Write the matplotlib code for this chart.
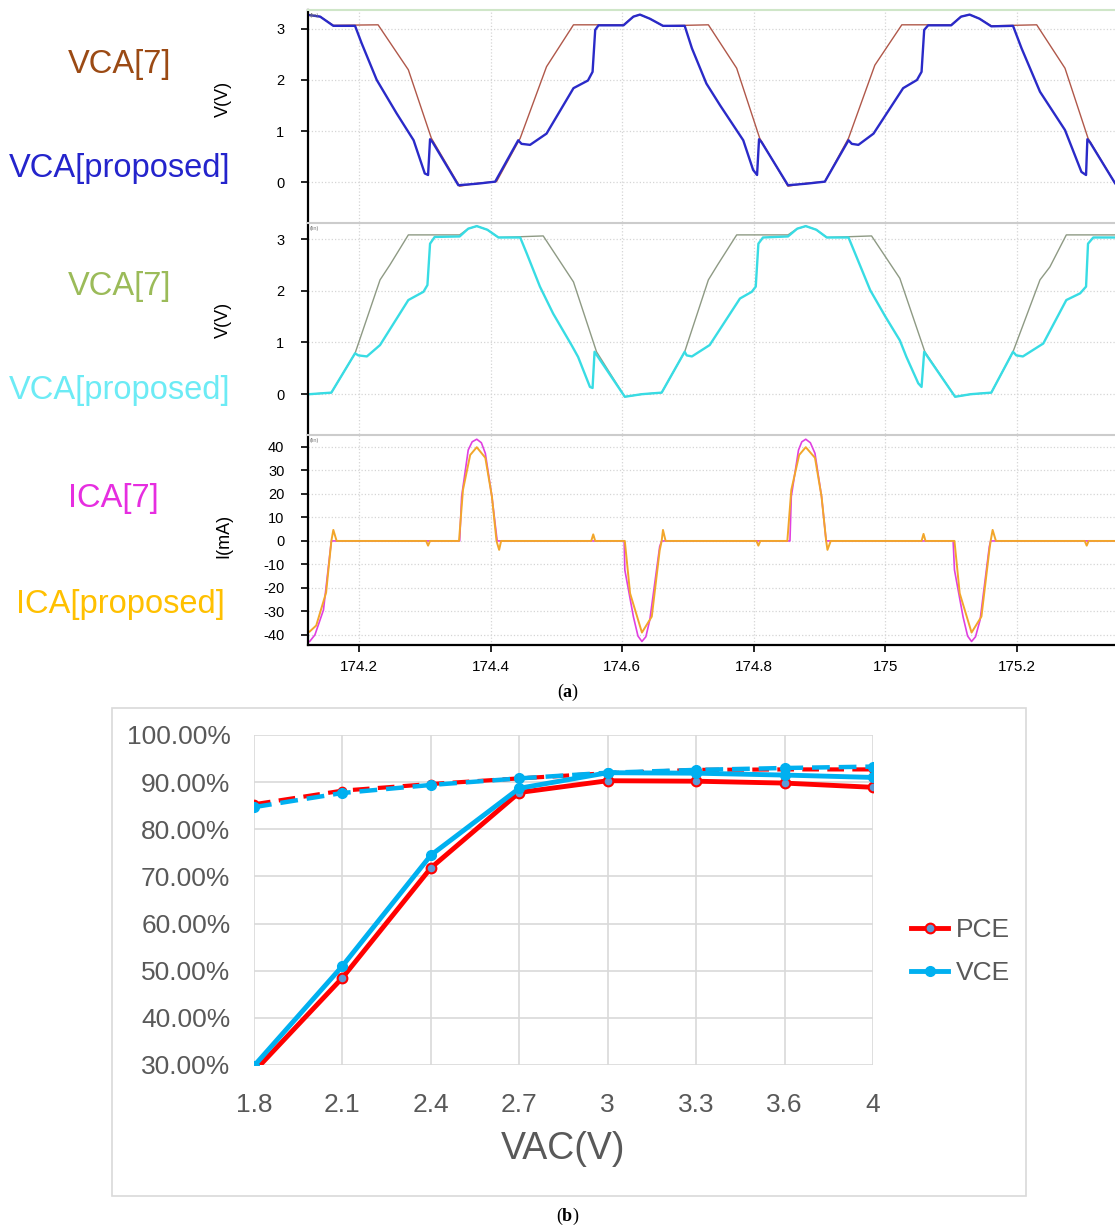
import numpy as np
import matplotlib
matplotlib.use("Agg")
import matplotlib.pyplot as plt
from matplotlib.lines import Line2D
from matplotlib.patches import Rectangle
from matplotlib.ticker import PercentFormatter, FuncFormatter

plt.rcParams['font.family'] = ['Liberation Sans', 'DejaVu Sans']
plt.rcParams['axes.unicode_minus'] = False
plt.rcParams['mathtext.fontset'] = 'custom'
plt.rcParams['mathtext.rm'] = 'Liberation Serif'
plt.rcParams['mathtext.bf'] = 'Liberation Serif:bold'

# ---- (a) waveform vertices: (time, value) ----
vca7_top = [(174.125, 3.27), (174.141, 3.24), (174.161, 3.07), (174.229, 3.08), (174.275, 2.20),
            (174.310, 0.86), (174.353, -0.08), (174.380, -0.02), (174.409, 0.01), (174.445, 0.86),
            (174.485, 2.26), (174.526, 3.08), (174.602, 3.08), (174.617, 3.24), (174.627, 3.28),
            (174.642, 3.20), (174.662, 3.06), (174.731, 3.08), (174.774, 2.23), (174.809, 0.86),
            (174.852, -0.08), (174.880, -0.02), (174.908, 0.01), (174.944, 0.86), (174.984, 2.29),
            (175.025, 3.08), (175.100, 3.08), (175.115, 3.24), (175.128, 3.28), (175.143, 3.20),
            (175.161, 3.06), (175.230, 3.08), (175.273, 2.23), (175.308, 0.86), (175.349, -0.02)]
vcap_top = [(174.125, 3.27), (174.141, 3.24), (174.161, 3.06), (174.194, 3.06), (174.204, 2.72),
            (174.227, 2.00), (174.257, 1.35), (174.283, 0.82), (174.300, 0.17), (174.305, 0.14),
            (174.308, 0.84), (174.312, 0.78), (174.351, -0.06), (174.380, -0.03), (174.407, 0.01),
            (174.442, 0.82), (174.447, 0.75), (174.460, 0.73), (174.485, 0.95), (174.526, 1.84),
            (174.548, 1.99), (174.555, 2.16), (174.559, 2.98), (174.564, 3.07), (174.602, 3.07),
            (174.617, 3.24), (174.627, 3.28), (174.642, 3.20), (174.662, 3.06), (174.695, 3.06),
            (174.706, 2.62), (174.728, 1.93), (174.749, 1.50), (174.784, 0.82), (174.799, 0.24),
            (174.805, 0.14), (174.808, 0.84), (174.812, 0.78), (174.852, -0.06), (174.880, -0.03),
            (174.908, 0.01), (174.944, 0.82), (174.949, 0.75), (174.959, 0.73), (174.982, 0.95),
            (175.027, 1.84), (175.048, 2.00), (175.055, 2.16), (175.059, 2.98), (175.065, 3.07),
            (175.100, 3.07), (175.115, 3.24), (175.128, 3.28), (175.143, 3.20), (175.161, 3.05),
            (175.194, 3.06), (175.207, 2.62), (175.235, 1.77), (175.273, 1.02), (175.298, 0.20),
            (175.305, 0.14), (175.307, 0.84), (175.311, 0.78), (175.349, -0.02)]
vca7_mid = [(174.125, 0.0), (174.158, 0.03), (174.194, 0.79), (174.232, 2.21), (174.247, 2.50),
            (174.275, 3.08), (174.353, 3.08), (174.366, 3.20), (174.379, 3.25), (174.395, 3.18),
            (174.412, 3.03), (174.480, 3.06), (174.526, 2.17), (174.561, 0.82), (174.604, -0.05),
            (174.630, 0.0), (174.660, 0.03), (174.695, 0.82), (174.731, 2.21), (174.745, 2.50),
            (174.774, 3.08), (174.852, 3.08), (174.866, 3.20), (174.879, 3.25), (174.895, 3.18),
            (174.911, 3.03), (174.979, 3.06), (175.022, 2.24), (175.060, 0.82), (175.106, -0.05),
            (175.130, 0.0), (175.161, 0.03), (175.194, 0.82), (175.235, 2.21), (175.250, 2.46),
            (175.275, 3.08), (175.349, 3.08)]
vcap_mid = [(174.125, 0.0), (174.158, 0.03), (174.194, 0.79), (174.199, 0.75), (174.212, 0.73),
            (174.232, 0.95), (174.275, 1.82), (174.298, 1.98), (174.304, 2.11), (174.308, 2.91),
            (174.315, 3.04), (174.353, 3.05), (174.366, 3.20), (174.379, 3.25), (174.395, 3.18),
            (174.412, 3.03), (174.445, 3.03), (174.455, 2.72), (174.475, 2.08), (174.495, 1.56),
            (174.523, 0.95), (174.533, 0.72), (174.551, 0.14), (174.555, 0.12), (174.558, 0.82),
            (174.604, -0.05), (174.630, 0.0), (174.660, 0.03), (174.695, 0.82), (174.698, 0.75),
            (174.706, 0.73), (174.733, 0.95), (174.779, 1.85), (174.797, 1.98), (174.803, 2.08),
            (174.807, 2.91), (174.814, 3.03), (174.852, 3.05), (174.866, 3.20), (174.879, 3.25),
            (174.895, 3.18), (174.911, 3.03), (174.944, 3.03), (174.956, 2.66), (174.977, 2.01),
            (175.000, 1.50), (175.022, 1.04), (175.032, 0.72), (175.050, 0.21), (175.055, 0.14),
            (175.059, 0.82), (175.106, -0.05), (175.130, 0.0), (175.161, 0.03), (175.194, 0.82),
            (175.199, 0.75), (175.209, 0.73), (175.240, 0.98), (175.275, 1.82), (175.296, 1.95),
            (175.305, 2.08), (175.308, 2.91), (175.316, 3.03), (175.349, 3.03)]
ica7 = [(174.125, -42.8), (174.133, -40.0), (174.146, -29.4), (174.158, 0.0), (174.353, 0.0),
        (174.356, 18.9), (174.366, 38.7), (174.372, 42.2), (174.379, 43.3), (174.386, 41.8),
        (174.392, 37.3), (174.402, 18.9), (174.410, 0.0), (174.603, 0.0), (174.604, -12.3),
        (174.617, -32.2), (174.624, -40.5), (174.630, -42.8), (174.636, -40.8), (174.642, -33.6),
        (174.657, -2.4), (174.660, 0.0), (174.855, 0.0), (174.857, 18.9), (174.868, 38.7),
        (174.873, 42.2), (174.879, 43.3), (174.886, 41.8), (174.893, 37.3), (174.903, 18.9),
        (174.910, 0.0), (175.103, 0.0), (175.105, -12.3), (175.118, -32.2), (175.125, -40.5),
        (175.131, -42.8), (175.137, -40.8), (175.144, -33.6), (175.158, -2.4), (175.160, 0.0),
        (175.349, 0.0)]
icap = [(174.125, -38.6), (174.135, -36.0), (174.150, -22.0), (174.158, 0.0), (174.161, 4.7),
        (174.166, 0.0), (174.302, 0.0), (174.305, -2.0), (174.308, 0.0), (174.352, 0.0),
        (174.358, 21.7), (174.369, 36.6), (174.379, 39.9), (174.392, 35.4), (174.402, 18.9),
        (174.409, 0.0), (174.413, -3.8), (174.416, 0.0), (174.553, 0.0), (174.556, 2.8),
        (174.559, 0.0), (174.604, 0.0), (174.612, -22.3), (174.630, -39.0), (174.645, -32.2),
        (174.657, -4.0), (174.660, 0.0), (174.662, 4.7), (174.666, 0.0), (174.804, 0.0),
        (174.807, -2.0), (174.810, 0.0), (174.851, 0.0), (174.857, 21.7), (174.869, 36.6),
        (174.879, 39.9), (174.893, 35.4), (174.903, 18.9), (174.910, 0.0), (174.912, -3.8),
        (174.917, 0.0), (175.055, 0.0), (175.058, 3.0), (175.061, 0.0), (175.105, 0.0),
        (175.113, -22.3), (175.131, -39.0), (175.146, -32.2), (175.158, -4.0), (175.160, 0.0),
        (175.163, 4.7), (175.168, 0.0), (175.303, 0.0), (175.306, -2.0), (175.309, 0.0),
        (175.349, 0.0)]

time_ticks = [174.2, 174.4, 174.6, 174.8, 175.0, 175.2]

# ---- (b) efficiency data ----
vac = ['1.8', '2.1', '2.4', '2.7', '3', '3.3', '3.6', '4']
pce_solid = [28.6, 48.5, 71.8, 87.8, 90.3, 90.2, 89.8, 88.9]
vce_solid = [29.8, 51.0, 74.5, 88.7, 92.0, 91.9, 91.5, 91.0]
pce_dash = [85.3, 88.2, 89.6, 90.8, 91.9, 92.6, 92.7, 92.7]
vce_dash = [84.7, 87.7, 89.4, 90.8, 92.0, 92.6, 93.0, 93.3]

W, H = 1115, 1232
fig = plt.figure(figsize=(W / 100, H / 100), dpi=100)


def fbox(x0, y0, x1, y1):
    return [x0 / W, 1 - y1 / H, (x1 - x0) / W, (y1 - y0) / H]


panels = [
    (fbox(308, 10, 1115, 222), (-0.78, 3.37), [0, 1, 2, 3], 'V(V)', 0.58,
     [(vca7_top, '#B0584A', 1.0), (vcap_top, '#2A2AC8', 1.7)], '#CFE6C8'),
    (fbox(308, 223, 1115, 434), (-0.77, 3.31), [0, 1, 2, 3], 'V(V)', 0.54,
     [(vca7_mid, '#8E9A84', 1.0), (vcap_mid, '#38DCE4', 1.7)], '#CCCCCC'),
    (fbox(308, 435, 1115, 645), (-44.3, 45.1), list(range(-40, 41, 10)), 'I(mA)', 0.52,
     [(ica7, '#E040E0', 1.2), (icap, '#F2A62A', 1.4)], '#CCCCCC'),
]

for k, (box, ylim, yt, ylab, ly, traces, topc) in enumerate(panels):
    ax = fig.add_axes(box)
    for data, col, lw in traces:
        t = [p[0] for p in data]
        v = [p[1] for p in data]
        ax.plot(t, v, color=col, lw=lw)
    ax.set_xlim(174.1225, 175.349)
    ax.set_ylim(*ylim)
    ax.set_yticks(yt)
    ax.set_xticks(time_ticks)
    ax.grid(True, color='#D5D5D5', ls=':', lw=0.9)
    ax.spines['right'].set_visible(False)
    ax.spines['top'].set_color(topc)
    ax.spines['top'].set_linewidth(1.5)
    ax.spines['left'].set_linewidth(1.6)
    ax.tick_params(axis='y', direction='out', length=5, width=1.2, pad=12, labelsize=10.5)
    ax.set_ylabel(ylab, fontsize=13)
    ax.yaxis.set_label_coords(-0.094, ly)
    ax.text(0.002, 0.985, '(lin)', transform=ax.transAxes, fontsize=4, color='#777777',
            va='top', ha='left')
    if k < 2:
        ax.spines['bottom'].set_visible(False)
        ax.tick_params(axis='x', length=0, labelbottom=False)
    else:
        ax.spines['bottom'].set_linewidth(1.6)
        ax.tick_params(axis='x', direction='out', length=5, width=1.2, pad=6, labelsize=11)
        ax.xaxis.set_major_formatter(FuncFormatter(lambda x, p: '%g' % round(x, 1)))

side_labels = [
    ('VCA[7]', 120, 64, '#9B4A14'),
    ('VCA[proposed]', 120, 169, '#2424CC'),
    ('VCA[7]', 120, 287, '#9BBB59'),
    ('VCA[proposed]', 120, 391, '#6CEBF5'),
    ('ICA[7]', 113, 499, '#E62EE0'),
    ('ICA[proposed]', 120, 605, '#FFC000'),
]
for txt, x, y, col in side_labels:
    fig.text(x / W, 1 - y / H, txt, color=col, fontsize=23.5, ha='center', va='center')

fig.text(568 / W, 1 - 692 / H, r'$(\mathbf{a})$', fontsize=13, ha='center', va='center')
fig.text(568 / W, 1 - 1216 / H, r'$(\mathbf{b})$', fontsize=13, ha='center', va='center')

# ---- (b) ----
fig.patches.append(Rectangle((112 / W, 1 - 1196 / H), (1026 - 112) / W, (1196 - 708) / H,
                             transform=fig.transFigure, fill=False, ec='#D9D9D9', lw=1.2))
bx = fig.add_axes(fbox(254, 735, 873, 1065))
xpos = np.arange(len(vac))
gray = '#595959'
bx.plot(xpos, pce_dash, color='#FF0000', lw=3, ls=(0, (4, 2)), marker='o', ms=6)
bx.plot(xpos, vce_dash, color='#00B0F0', lw=3.2, ls=(0, (4, 2)), marker='o', ms=7)
bx.plot(xpos, pce_solid, color='#FF0000', lw=3.5, marker='o', ms=7,
        mfc='#5B9BD5', mec='#FF0000', mew=1.5)
bx.plot(xpos, vce_solid, color='#00B0F0', lw=3.5, marker='o', ms=7)
bx.set_xlim(0, len(vac) - 1)
bx.set_ylim(30, 100)
bx.set_xticks(xpos)
bx.set_xticklabels(vac)
bx.set_yticks(np.arange(30, 101, 10))
bx.yaxis.set_major_formatter(PercentFormatter(xmax=100, decimals=2))
bx.grid(True, color='#D9D9D9', lw=1.2)
bx.set_axisbelow(True)
for s in bx.spines.values():
    s.set_visible(False)
bx.tick_params(length=0, labelsize=19, labelcolor=gray)
bx.tick_params(axis='y', pad=17)
bx.tick_params(axis='x', pad=20)
bx.set_xlabel('VAC(V)', fontsize=27, color=gray, labelpad=10)

handles = [
    Line2D([], [], color='#FF0000', lw=3.5, marker='o', ms=7, mfc='#5B9BD5', mec='#FF0000', mew=1.5),
    Line2D([], [], color='#00B0F0', lw=3.5, marker='o', ms=7),
]
fig.legend(handles, ['PCE', 'VCE'], loc='center left', bbox_to_anchor=(898 / W, 1 - 951.5 / H),
           frameon=False, fontsize=19, labelcolor=gray, handlelength=1.4, handletextpad=0.3,
           labelspacing=0.7, borderpad=0)

fig.savefig('out.png', dpi=100)
